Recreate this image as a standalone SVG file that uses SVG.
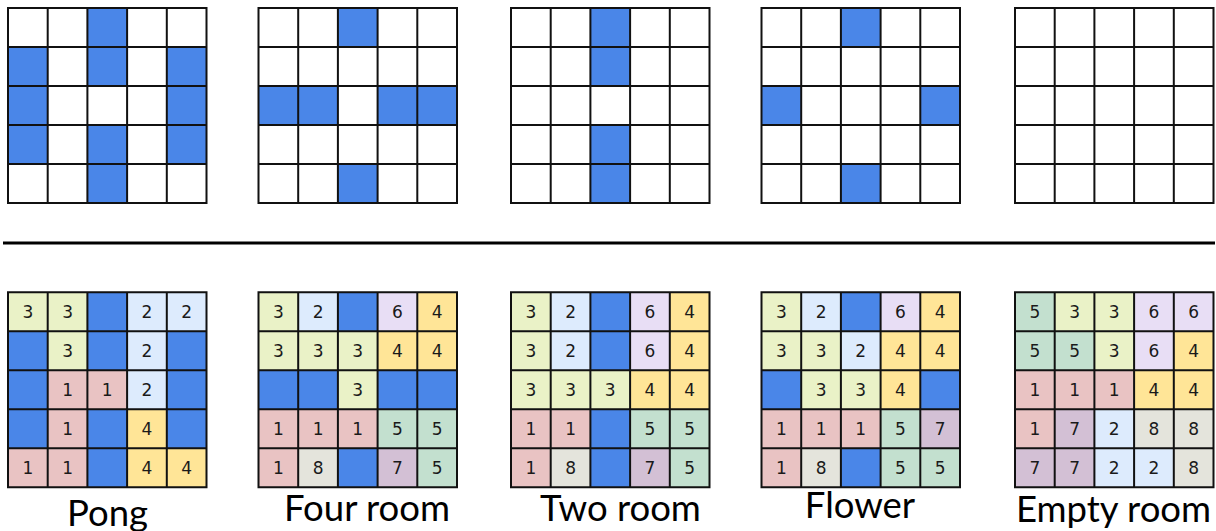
<svg xmlns="http://www.w3.org/2000/svg" xmlns:xlink="http://www.w3.org/1999/xlink" width="1216" height="531" viewBox="0 0 1216 531">
<style>
.n{font-family:"DejaVu Sans",sans-serif;font-size:17px;text-anchor:middle;fill:#1a1a1a}
.lbl{font-family:Lato,"Liberation Sans",sans-serif;font-size:36.5px;text-anchor:middle;fill:#000}
.gl{fill:none;stroke:#111;stroke-width:2}
</style>
<defs>
<rect id="b" width="39.7" height="39" fill="#4A86E8"/>
<rect id="p1" width="39.7" height="39" fill="#E9C3C3"/>
<rect id="p2" width="39.7" height="39" fill="#DDEBFD"/>
<rect id="p3" width="39.7" height="39" fill="#EAF2C7"/>
<rect id="p4" width="39.7" height="39" fill="#FFE597"/>
<rect id="p5" width="39.7" height="39" fill="#C3E0CF"/>
<rect id="p6" width="39.7" height="39" fill="#E8DEF5"/>
<rect id="p7" width="39.7" height="39" fill="#D3C0D5"/>
<rect id="p8" width="39.7" height="39" fill="#E4E4DC"/>
<path id="grid" class="gl" d="M0,0H198.5V195H0Z M39.7,0V195 M79.4,0V195 M119.1,0V195 M158.8,0V195 M0,39H198.5 M0,78H198.5 M0,117H198.5 M0,156H198.5"/>
</defs>

<g id="top-pong" transform="translate(8,8)">
<rect width="198.5" height="195" fill="#fff"/>
<use href="#b" x="79.4" y="0"/><use href="#b" x="0" y="39"/><use href="#b" x="79.4" y="39"/><use href="#b" x="158.8" y="39"/>
<use href="#b" x="0" y="78"/><use href="#b" x="158.8" y="78"/>
<use href="#b" x="0" y="117"/><use href="#b" x="79.4" y="117"/><use href="#b" x="158.8" y="117"/>
<use href="#b" x="79.4" y="156"/>
<use href="#grid"/>
</g>
<g id="top-fourroom" transform="translate(258.5,8)">
<rect width="198.5" height="195" fill="#fff"/>
<use href="#b" x="79.4" y="0"/>
<use href="#b" x="0" y="78"/><use href="#b" x="39.7" y="78"/><use href="#b" x="119.1" y="78"/><use href="#b" x="158.8" y="78"/>
<use href="#b" x="79.4" y="156"/>
<use href="#grid"/>
</g>
<g id="top-tworoom" transform="translate(511,8)">
<rect width="198.5" height="195" fill="#fff"/>
<use href="#b" x="79.4" y="0"/><use href="#b" x="79.4" y="39"/><use href="#b" x="79.4" y="117"/><use href="#b" x="79.4" y="156"/>
<use href="#grid"/>
</g>
<g id="top-flower" transform="translate(761.5,8)">
<rect width="198.5" height="195" fill="#fff"/>
<use href="#b" x="79.4" y="0"/><use href="#b" x="0" y="78"/><use href="#b" x="158.8" y="78"/><use href="#b" x="79.4" y="156"/>
<use href="#grid"/>
</g>
<g id="top-empty" transform="translate(1015,8)">
<rect width="198.5" height="195" fill="#fff"/>
<use href="#grid"/>
</g>

<g id="divider">
<line x1="3" y1="243" x2="1215" y2="243" stroke="#000" stroke-width="3"/>
</g>

<g id="bot-pong" transform="translate(8,292.3)">
<use href="#p3" x="0" y="0"/><use href="#p3" x="39.7" y="0"/><use href="#b" x="79.4" y="0"/><use href="#p2" x="119.1" y="0"/><use href="#p2" x="158.8" y="0"/>
<use href="#b" x="0" y="39"/><use href="#p3" x="39.7" y="39"/><use href="#b" x="79.4" y="39"/><use href="#p2" x="119.1" y="39"/><use href="#b" x="158.8" y="39"/>
<use href="#b" x="0" y="78"/><use href="#p1" x="39.7" y="78"/><use href="#p1" x="79.4" y="78"/><use href="#p2" x="119.1" y="78"/><use href="#b" x="158.8" y="78"/>
<use href="#b" x="0" y="117"/><use href="#p1" x="39.7" y="117"/><use href="#b" x="79.4" y="117"/><use href="#p4" x="119.1" y="117"/><use href="#b" x="158.8" y="117"/>
<use href="#p1" x="0" y="156"/><use href="#p1" x="39.7" y="156"/><use href="#b" x="79.4" y="156"/><use href="#p4" x="119.1" y="156"/><use href="#p4" x="158.8" y="156"/>
<use href="#grid"/>
<text class="n" x="19.85" y="25.5">3</text><text class="n" x="59.55" y="25.5">3</text><text class="n" x="138.95" y="25.5">2</text><text class="n" x="178.65" y="25.5">2</text>
<text class="n" x="59.55" y="64.5">3</text><text class="n" x="138.95" y="64.5">2</text>
<text class="n" x="59.55" y="103.5">1</text><text class="n" x="99.25" y="103.5">1</text><text class="n" x="138.95" y="103.5">2</text>
<text class="n" x="59.55" y="142.5">1</text><text class="n" x="138.95" y="142.5">4</text>
<text class="n" x="19.85" y="181.5">1</text><text class="n" x="59.55" y="181.5">1</text><text class="n" x="138.95" y="181.5">4</text><text class="n" x="178.65" y="181.5">4</text>
</g>

<g id="bot-fourroom" transform="translate(258.5,292.3)">
<use href="#p3" x="0" y="0"/><use href="#p2" x="39.7" y="0"/><use href="#b" x="79.4" y="0"/><use href="#p6" x="119.1" y="0"/><use href="#p4" x="158.8" y="0"/>
<use href="#p3" x="0" y="39"/><use href="#p3" x="39.7" y="39"/><use href="#p3" x="79.4" y="39"/><use href="#p4" x="119.1" y="39"/><use href="#p4" x="158.8" y="39"/>
<use href="#b" x="0" y="78"/><use href="#b" x="39.7" y="78"/><use href="#p3" x="79.4" y="78"/><use href="#b" x="119.1" y="78"/><use href="#b" x="158.8" y="78"/>
<use href="#p1" x="0" y="117"/><use href="#p1" x="39.7" y="117"/><use href="#p1" x="79.4" y="117"/><use href="#p5" x="119.1" y="117"/><use href="#p5" x="158.8" y="117"/>
<use href="#p1" x="0" y="156"/><use href="#p8" x="39.7" y="156"/><use href="#b" x="79.4" y="156"/><use href="#p7" x="119.1" y="156"/><use href="#p5" x="158.8" y="156"/>
<use href="#grid"/>
<text class="n" x="19.85" y="25.5">3</text><text class="n" x="59.55" y="25.5">2</text><text class="n" x="138.95" y="25.5">6</text><text class="n" x="178.65" y="25.5">4</text>
<text class="n" x="19.85" y="64.5">3</text><text class="n" x="59.55" y="64.5">3</text><text class="n" x="99.25" y="64.5">3</text><text class="n" x="138.95" y="64.5">4</text><text class="n" x="178.65" y="64.5">4</text>
<text class="n" x="99.25" y="103.5">3</text>
<text class="n" x="19.85" y="142.5">1</text><text class="n" x="59.55" y="142.5">1</text><text class="n" x="99.25" y="142.5">1</text><text class="n" x="138.95" y="142.5">5</text><text class="n" x="178.65" y="142.5">5</text>
<text class="n" x="19.85" y="181.5">1</text><text class="n" x="59.55" y="181.5">8</text><text class="n" x="138.95" y="181.5">7</text><text class="n" x="178.65" y="181.5">5</text>
</g>

<g id="bot-tworoom" transform="translate(511,292.3)">
<use href="#p3" x="0" y="0"/><use href="#p2" x="39.7" y="0"/><use href="#b" x="79.4" y="0"/><use href="#p6" x="119.1" y="0"/><use href="#p4" x="158.8" y="0"/>
<use href="#p3" x="0" y="39"/><use href="#p2" x="39.7" y="39"/><use href="#b" x="79.4" y="39"/><use href="#p6" x="119.1" y="39"/><use href="#p4" x="158.8" y="39"/>
<use href="#p3" x="0" y="78"/><use href="#p3" x="39.7" y="78"/><use href="#p3" x="79.4" y="78"/><use href="#p4" x="119.1" y="78"/><use href="#p4" x="158.8" y="78"/>
<use href="#p1" x="0" y="117"/><use href="#p1" x="39.7" y="117"/><use href="#b" x="79.4" y="117"/><use href="#p5" x="119.1" y="117"/><use href="#p5" x="158.8" y="117"/>
<use href="#p1" x="0" y="156"/><use href="#p8" x="39.7" y="156"/><use href="#b" x="79.4" y="156"/><use href="#p7" x="119.1" y="156"/><use href="#p5" x="158.8" y="156"/>
<use href="#grid"/>
<text class="n" x="19.85" y="25.5">3</text><text class="n" x="59.55" y="25.5">2</text><text class="n" x="138.95" y="25.5">6</text><text class="n" x="178.65" y="25.5">4</text>
<text class="n" x="19.85" y="64.5">3</text><text class="n" x="59.55" y="64.5">2</text><text class="n" x="138.95" y="64.5">6</text><text class="n" x="178.65" y="64.5">4</text>
<text class="n" x="19.85" y="103.5">3</text><text class="n" x="59.55" y="103.5">3</text><text class="n" x="99.25" y="103.5">3</text><text class="n" x="138.95" y="103.5">4</text><text class="n" x="178.65" y="103.5">4</text>
<text class="n" x="19.85" y="142.5">1</text><text class="n" x="59.55" y="142.5">1</text><text class="n" x="138.95" y="142.5">5</text><text class="n" x="178.65" y="142.5">5</text>
<text class="n" x="19.85" y="181.5">1</text><text class="n" x="59.55" y="181.5">8</text><text class="n" x="138.95" y="181.5">7</text><text class="n" x="178.65" y="181.5">5</text>
</g>

<g id="bot-flower" transform="translate(761.5,292.3)">
<use href="#p3" x="0" y="0"/><use href="#p2" x="39.7" y="0"/><use href="#b" x="79.4" y="0"/><use href="#p6" x="119.1" y="0"/><use href="#p4" x="158.8" y="0"/>
<use href="#p3" x="0" y="39"/><use href="#p3" x="39.7" y="39"/><use href="#p2" x="79.4" y="39"/><use href="#p4" x="119.1" y="39"/><use href="#p4" x="158.8" y="39"/>
<use href="#b" x="0" y="78"/><use href="#p3" x="39.7" y="78"/><use href="#p3" x="79.4" y="78"/><use href="#p4" x="119.1" y="78"/><use href="#b" x="158.8" y="78"/>
<use href="#p1" x="0" y="117"/><use href="#p1" x="39.7" y="117"/><use href="#p1" x="79.4" y="117"/><use href="#p5" x="119.1" y="117"/><use href="#p7" x="158.8" y="117"/>
<use href="#p1" x="0" y="156"/><use href="#p8" x="39.7" y="156"/><use href="#b" x="79.4" y="156"/><use href="#p5" x="119.1" y="156"/><use href="#p5" x="158.8" y="156"/>
<use href="#grid"/>
<text class="n" x="19.85" y="25.5">3</text><text class="n" x="59.55" y="25.5">2</text><text class="n" x="138.95" y="25.5">6</text><text class="n" x="178.65" y="25.5">4</text>
<text class="n" x="19.85" y="64.5">3</text><text class="n" x="59.55" y="64.5">3</text><text class="n" x="99.25" y="64.5">2</text><text class="n" x="138.95" y="64.5">4</text><text class="n" x="178.65" y="64.5">4</text>
<text class="n" x="59.55" y="103.5">3</text><text class="n" x="99.25" y="103.5">3</text><text class="n" x="138.95" y="103.5">4</text>
<text class="n" x="19.85" y="142.5">1</text><text class="n" x="59.55" y="142.5">1</text><text class="n" x="99.25" y="142.5">1</text><text class="n" x="138.95" y="142.5">5</text><text class="n" x="178.65" y="142.5">7</text>
<text class="n" x="19.85" y="181.5">1</text><text class="n" x="59.55" y="181.5">8</text><text class="n" x="138.95" y="181.5">5</text><text class="n" x="178.65" y="181.5">5</text>
</g>

<g id="bot-empty" transform="translate(1015,292.3)">
<use href="#p5" x="0" y="0"/><use href="#p3" x="39.7" y="0"/><use href="#p3" x="79.4" y="0"/><use href="#p6" x="119.1" y="0"/><use href="#p6" x="158.8" y="0"/>
<use href="#p5" x="0" y="39"/><use href="#p5" x="39.7" y="39"/><use href="#p3" x="79.4" y="39"/><use href="#p6" x="119.1" y="39"/><use href="#p4" x="158.8" y="39"/>
<use href="#p1" x="0" y="78"/><use href="#p1" x="39.7" y="78"/><use href="#p1" x="79.4" y="78"/><use href="#p4" x="119.1" y="78"/><use href="#p4" x="158.8" y="78"/>
<use href="#p1" x="0" y="117"/><use href="#p7" x="39.7" y="117"/><use href="#p2" x="79.4" y="117"/><use href="#p8" x="119.1" y="117"/><use href="#p8" x="158.8" y="117"/>
<use href="#p7" x="0" y="156"/><use href="#p7" x="39.7" y="156"/><use href="#p2" x="79.4" y="156"/><use href="#p2" x="119.1" y="156"/><use href="#p8" x="158.8" y="156"/>
<use href="#grid"/>
<text class="n" x="19.85" y="25.5">5</text><text class="n" x="59.55" y="25.5">3</text><text class="n" x="99.25" y="25.5">3</text><text class="n" x="138.95" y="25.5">6</text><text class="n" x="178.65" y="25.5">6</text>
<text class="n" x="19.85" y="64.5">5</text><text class="n" x="59.55" y="64.5">5</text><text class="n" x="99.25" y="64.5">3</text><text class="n" x="138.95" y="64.5">6</text><text class="n" x="178.65" y="64.5">4</text>
<text class="n" x="19.85" y="103.5">1</text><text class="n" x="59.55" y="103.5">1</text><text class="n" x="99.25" y="103.5">1</text><text class="n" x="138.95" y="103.5">4</text><text class="n" x="178.65" y="103.5">4</text>
<text class="n" x="19.85" y="142.5">1</text><text class="n" x="59.55" y="142.5">7</text><text class="n" x="99.25" y="142.5">2</text><text class="n" x="138.95" y="142.5">8</text><text class="n" x="178.65" y="142.5">8</text>
<text class="n" x="19.85" y="181.5">7</text><text class="n" x="59.55" y="181.5">7</text><text class="n" x="99.25" y="181.5">2</text><text class="n" x="138.95" y="181.5">2</text><text class="n" x="178.65" y="181.5">8</text>
</g>

<g id="labels">
<text class="lbl" x="107.5" y="526">Pong</text>
<text class="lbl" x="367" y="521">Four room</text>
<text class="lbl" x="620.5" y="521">Two room</text>
<text class="lbl" x="860" y="518">Flower</text>
<text class="lbl" x="1113.5" y="522">Empty room</text>
</g>
</svg>
